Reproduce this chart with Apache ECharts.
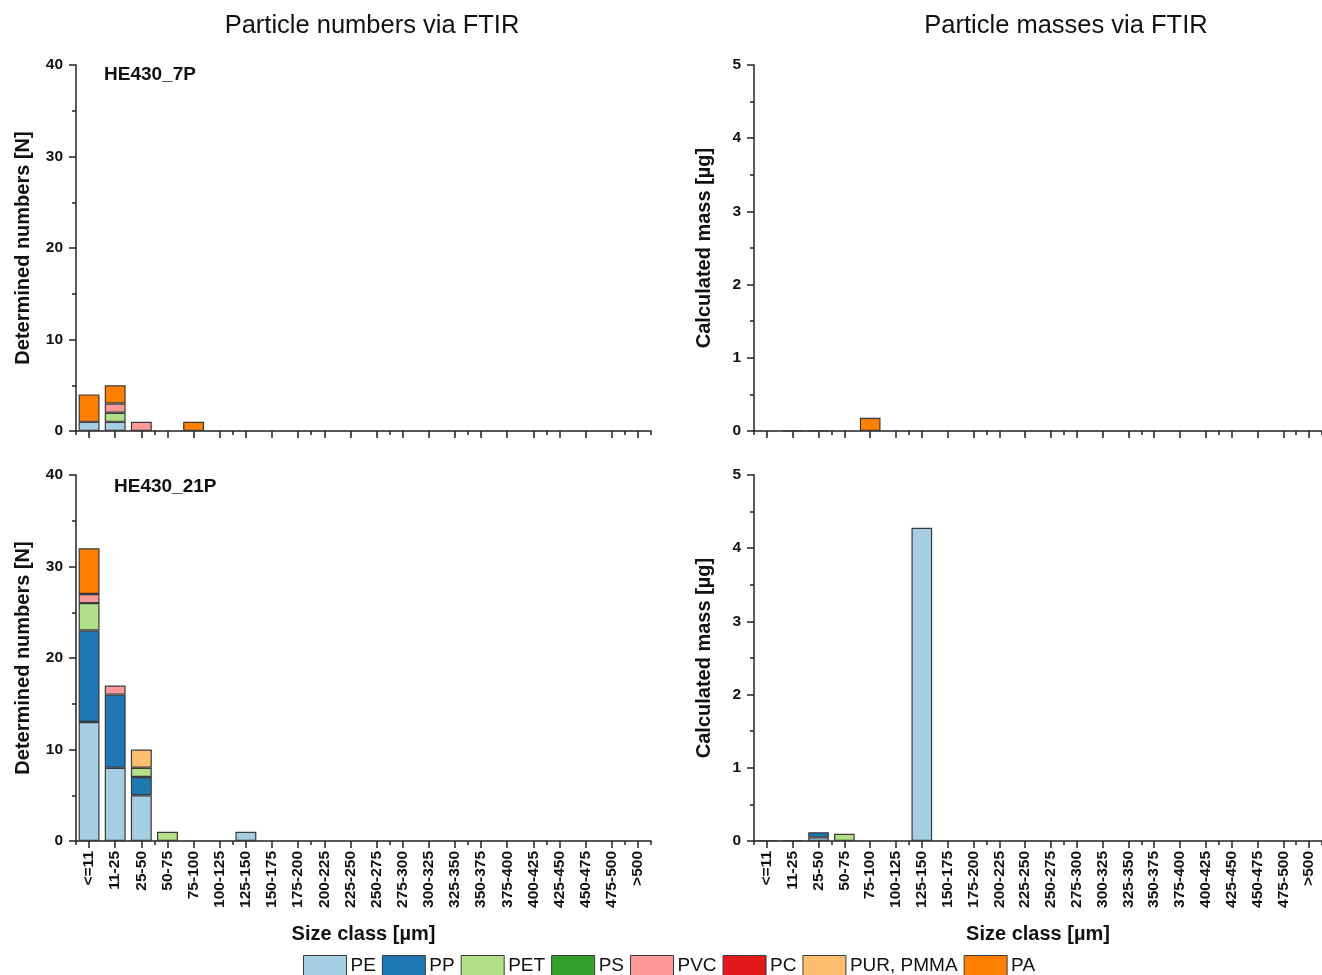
<!DOCTYPE html>
<html><head><meta charset="utf-8">
<script src="https://cdn.jsdelivr.net/npm/echarts@6/dist/echarts.min.js"></script>
<style>html,body{margin:0;padding:0;background:#fff}#c{width:1322px;height:975px}</style>
</head><body><div id="c"></div>
<script>
const categories = ['<=11','11-25','25-50','50-75','75-100','100-125','125-150','150-175','175-200','200-225','225-250','250-275','275-300','300-325','325-350','350-375','375-400','400-425','425-450','450-475','475-500','>500'];
const polymers = ['PE','PP','PET','PS','PVC','PC','PUR, PMMA','PA'];
const polymerColors = ['#a6cee3','#1f78b4','#b2df8a','#33a02c','#fb9a99','#e31a1c','#fdbf6f','#ff7f00'];
const panelTitles = ['Particle numbers via FTIR','Particle masses via FTIR'];
const sampleNames = ['HE430_7P','HE430_21P'];
const numberTicks = [0,10,20,30,40];
const massTicks = [0,1,2,3,4,5];

// rows in polymer order: PE, PP, PET, PS, PVC, PC, PUR/PMMA, PA (values per size class)
const numbers7P = [
  [1,1,0,0,0,0,0,0,0,0,0,0,0,0,0,0,0,0,0,0,0,0],
  [0,0,0,0,0,0,0,0,0,0,0,0,0,0,0,0,0,0,0,0,0,0],
  [0,1,0,0,0,0,0,0,0,0,0,0,0,0,0,0,0,0,0,0,0,0],
  [0,0,0,0,0,0,0,0,0,0,0,0,0,0,0,0,0,0,0,0,0,0],
  [0,1,1,0,0,0,0,0,0,0,0,0,0,0,0,0,0,0,0,0,0,0],
  [0,0,0,0,0,0,0,0,0,0,0,0,0,0,0,0,0,0,0,0,0,0],
  [0,0,0,0,0,0,0,0,0,0,0,0,0,0,0,0,0,0,0,0,0,0],
  [3,2,0,0,1,0,0,0,0,0,0,0,0,0,0,0,0,0,0,0,0,0]
];
const numbers21P = [
  [13,8,5,0,0,0,1,0,0,0,0,0,0,0,0,0,0,0,0,0,0,0],
  [10,8,2,0,0,0,0,0,0,0,0,0,0,0,0,0,0,0,0,0,0,0],
  [3,0,1,1,0,0,0,0,0,0,0,0,0,0,0,0,0,0,0,0,0,0],
  [0,0,0,0,0,0,0,0,0,0,0,0,0,0,0,0,0,0,0,0,0,0],
  [1,1,0,0,0,0,0,0,0,0,0,0,0,0,0,0,0,0,0,0,0,0],
  [0,0,0,0,0,0,0,0,0,0,0,0,0,0,0,0,0,0,0,0,0,0],
  [0,0,2,0,0,0,0,0,0,0,0,0,0,0,0,0,0,0,0,0,0,0],
  [5,0,0,0,0,0,0,0,0,0,0,0,0,0,0,0,0,0,0,0,0,0]
];
const masses7P = [
  [0,0.005,0.005,0,0,0,0,0,0,0,0,0,0,0,0,0,0,0,0,0,0,0],
  [0,0,0,0,0,0,0,0,0,0,0,0,0,0,0,0,0,0,0,0,0,0],
  [0,0,0,0,0,0,0,0,0,0,0,0,0,0,0,0,0,0,0,0,0,0],
  [0,0,0,0,0,0,0,0,0,0,0,0,0,0,0,0,0,0,0,0,0,0],
  [0,0,0,0,0,0,0,0,0,0,0,0,0,0,0,0,0,0,0,0,0,0],
  [0,0,0,0,0,0,0,0,0,0,0,0,0,0,0,0,0,0,0,0,0,0],
  [0,0,0,0,0,0,0,0,0,0,0,0,0,0,0,0,0,0,0,0,0,0],
  [0,0,0,0,0.18,0,0,0,0,0,0,0,0,0,0,0,0,0,0,0,0,0]
];
const masses21P = [
  [0.01,0.01,0.05,0,0,0,4.28,0,0,0,0,0,0,0,0,0,0,0,0,0,0,0],
  [0,0,0.07,0,0,0,0,0,0,0,0,0,0,0,0,0,0,0,0,0,0,0],
  [0,0,0,0.1,0,0,0,0,0,0,0,0,0,0,0,0,0,0,0,0,0,0],
  [0,0,0,0,0,0,0,0,0,0,0,0,0,0,0,0,0,0,0,0,0,0],
  [0,0,0,0,0,0,0,0,0,0,0,0,0,0,0,0,0,0,0,0,0,0],
  [0,0,0,0,0,0,0,0,0,0,0,0,0,0,0,0,0,0,0,0,0,0],
  [0,0,0,0,0,0,0,0,0,0,0,0,0,0,0,0,0,0,0,0,0,0],
  [0,0,0,0,0,0,0,0,0,0,0,0,0,0,0,0,0,0,0,0,0,0]
];

const FONT = '"Liberation Sans", Arial, sans-serif';
const grids = [
  {left:76, top:65, width:575, height:366},
  {left:76, top:475, width:575, height:366},
  {left:754, top:65, width:568, height:366},
  {left:754, top:475, width:568, height:366}
];
const panelData = [numbers7P, numbers21P, masses7P, masses21P];
const isMass = [false,false,true,true];
const showLabels = [false,true,false,true];

const xAxes = [], yAxes = [], series = [];
grids.forEach((g, i) => {
  xAxes.push({
    type:'category', gridIndex:i, data:categories, boundaryGap:true,
    axisLine:{show:true, lineStyle:{color:'#222', width:1.5}},
    axisTick:{show:true, alignWithLabel:true, length:7, lineStyle:{color:'#222', width:1.5}},
    axisLabel:{show:showLabels[i], rotate:90, interval:0, fontFamily:FONT, fontWeight:'bold', fontSize:15.5, color:'#111', margin:10},
    name: showLabels[i] ? 'Size class [\u00b5m]' : '',
    nameLocation:'middle', nameGap:83,
    nameTextStyle:{fontFamily:FONT, fontWeight:'bold', fontSize:20, color:'#111'}
  });
  xAxes.push({
    type:'category', gridIndex:i, data:categories, boundaryGap:true, position:'bottom',
    axisLine:{show:false}, axisLabel:{show:false},
    axisTick:{show:true, alignWithLabel:false, length:4, lineStyle:{color:'#222', width:1.5}}
  });
  const ticks = isMass[i] ? massTicks : numberTicks;
  yAxes.push({
    type:'value', gridIndex:i, min:ticks[0], max:ticks[ticks.length-1], interval:ticks[1]-ticks[0],
    splitLine:{show:false},
    axisLine:{show:true, lineStyle:{color:'#222', width:1.5}},
    axisTick:{show:true, inside:false, length:7, lineStyle:{color:'#222', width:1.5}},
    minorTick:{show:true, splitNumber:2, length:4, lineStyle:{color:'#222', width:1.5}},
    axisLabel:{fontFamily:FONT, fontWeight:'bold', fontSize:15.5, color:'#111', margin:13},
    name: isMass[i] ? 'Calculated mass [\u00b5g]' : 'Determined numbers [N]',
    nameLocation:'middle', nameGap: isMass[i] ? 40 : 43, nameRotate:90,
    nameTextStyle:{fontFamily:FONT, fontWeight:'bold', fontSize:20, color:'#111'}
  });
  polymers.forEach((p, k) => {
    series.push({
      type:'bar', name:p, xAxisIndex:i*2, yAxisIndex:i, stack:'s'+i,
      barWidth:'80%',
      data: panelData[i][k].map(v => v === 0 ? '-' : v),
      itemStyle:{color:polymerColors[k], borderColor:'#3a3a3a', borderWidth:1.2},
      emphasis:{disabled:true}, animation:false
    });
  });
});

const chart = echarts.init(document.getElementById('c'), null, {renderer:'canvas'});
chart.setOption({
  backgroundColor:'#fff',
  animation:false,
  title:[
    {text:panelTitles[0], left:367, top:8, textAlign:'center', textStyle:{fontFamily:FONT, fontWeight:'normal', fontSize:25.5, color:'#111'}},
    {text:panelTitles[1], left:1061, top:8, textAlign:'center', textStyle:{fontFamily:FONT, fontWeight:'normal', fontSize:25.5, color:'#111'}},
    {text:sampleNames[0], left:99, top:60, textStyle:{fontFamily:FONT, fontWeight:'bold', fontSize:19, color:'#111'}},
    {text:sampleNames[1], left:109, top:472, textStyle:{fontFamily:FONT, fontWeight:'bold', fontSize:19, color:'#111'}}
  ],
  legend:{
    data:polymers, left:303, top:955, padding:0, itemWidth:43, itemHeight:20, itemGap:6,
    icon:'rect', selectedMode:false,
    textStyle:{fontFamily:FONT, fontSize:19, color:'#111', padding:[0,0,0,-1]},
    itemStyle:{borderColor:'#3a3a3a', borderWidth:1}
  },
  grid:grids,
  xAxis:xAxes,
  yAxis:yAxes,
  series:series
});
</script></body></html>
